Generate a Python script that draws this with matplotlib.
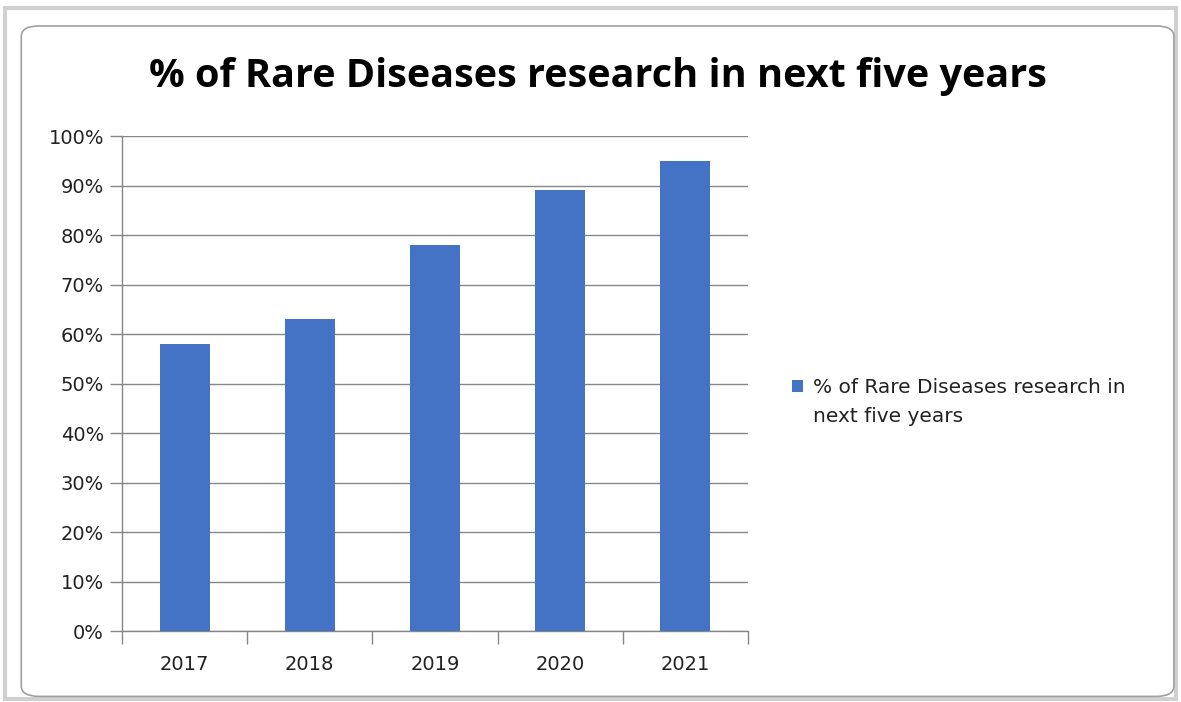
import numpy as np
import matplotlib.pyplot as plt
from matplotlib.patches import FancyBboxPatch, Rectangle
from matplotlib.container import BarContainer
from matplotlib.legend_handler import HandlerPatch
from matplotlib.ticker import PercentFormatter

years = ['2017', '2018', '2019', '2020', '2021']
porcentajes = [58, 63, 78, 89, 95]
serie = '% of Rare Diseases research in\nnext five years'
titulo = '% of Rare Diseases research in next five years'

azul = '#4472C4'
gris = '#868686'

fig = plt.figure(figsize=(11.81, 7.02), dpi=100)

# marco exterior tipo Excel
fig.patches.append(Rectangle((0.004, 0.004), 0.992, 0.984, transform=fig.transFigure,
                             fill=False, edgecolor='#d0d0d0', linewidth=3, zorder=-2))
fig.patches.append(FancyBboxPatch((0.018, 0.008), 0.976, 0.955, transform=fig.transFigure,
                                  boxstyle='round,pad=0,rounding_size=0.015',
                                  facecolor='white', edgecolor='#a0a0a0', linewidth=1.2,
                                  zorder=-1))

ax = fig.add_axes([0.1033, 0.1011, 0.5301, 0.7051])
ax.set_facecolor('none')
x = np.arange(len(years))
ax.bar(x, porcentajes, width=0.4, color=azul, zorder=3, label=serie)

ax.set_xlim(-0.5, len(years) - 0.5)
ax.set_ylim(0, 100)
ax.set_yticks(np.arange(0, 101, 10))
ax.yaxis.set_major_formatter(PercentFormatter(decimals=0))
ax.grid(axis='y', color=gris, linewidth=1, zorder=0)

ax.set_xticks(x)
ax.set_xticklabels(years)
ax.set_xticks(np.arange(-0.5, len(years), 1), minor=True)
ax.tick_params(axis='x', which='major', length=0, pad=17.5, labelsize=14, colors='#222222')
ax.tick_params(axis='x', which='minor', length=9, width=1, color=gris)
ax.tick_params(axis='y', length=9, width=1, color=gris, labelsize=14, labelcolor='#222222', pad=4)

for lado in ['top', 'right']:
    ax.spines[lado].set_visible(False)
for lado in ['left', 'bottom']:
    ax.spines[lado].set_color(gris)
    ax.spines[lado].set_linewidth(1)

fig.text(0.506, 0.891, titulo, ha='center', va='center', fontsize=28.5,
         fontweight='bold', family=['Open Sans', 'DejaVu Sans'])


# cuadro de leyenda alineado con la primera linea del texto
def cuadro_arriba(legend, orig_handle, xdescent, ydescent, width, height, fontsize):
    return Rectangle((-xdescent, -ydescent + 11.5), width, height)


def copiar_estilo(handle, orig):
    handle.update_from(orig.patches[0])


leg = ax.legend(loc='center left', bbox_to_anchor=(1.058, 0.463), frameon=False, fontsize=14.5,
                handlelength=0.55, handleheight=0.55, handletextpad=0.45, borderaxespad=0,
                handler_map={BarContainer: HandlerPatch(patch_func=cuadro_arriba,
                                                        update_func=copiar_estilo)})
for t in leg.get_texts():
    t.set_linespacing(1.63)
    t.set_color('#222222')

fig.savefig('out.png', dpi=100)
